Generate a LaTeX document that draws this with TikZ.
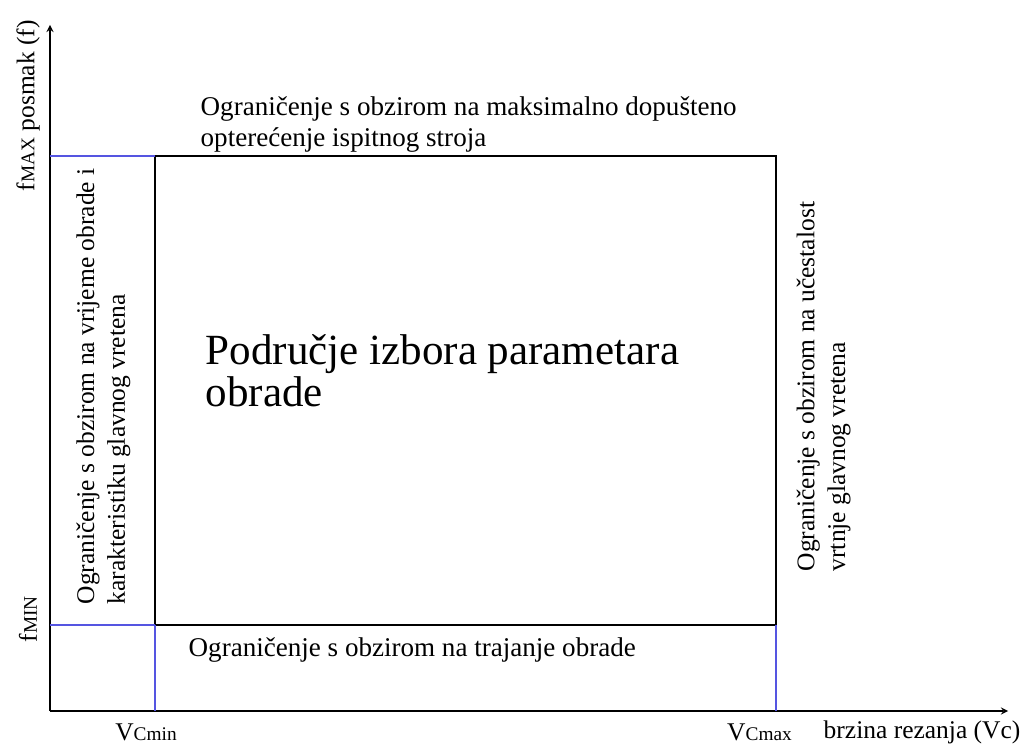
\documentclass[tikz,border=0pt]{standalone}
\usepackage{fontspec}
\setmainfont{Liberation Serif}
\definecolor{limblue}{RGB}{85,85,225}
\newcommand{\smalltxt}{\fontsize{14.5}{17.5}\selectfont}
\newcommand{\widetxt}{\fontsize{15.4}{17.5}\selectfont}
\newcommand{\bigtxt}{\fontsize{24.5}{24}\selectfont}
\newcommand{\subtxt}{\fontsize{11}{11}\selectfont}
\begin{document}
\begin{tikzpicture}[>=stealth,line width=0.8pt]
  \useasboundingbox (0,0) rectangle (20.42,14.9);
  \tikzset{lbl/.style={inner sep=0pt,font=\smalltxt,align=left}}
  % axes
  \coordinate (orig) at (1.0,0.68);
  \coordinate (ytip) at (1.0,14.4);
  \coordinate (xtip) at (20.16,0.68);
  \draw[->] (orig) -- (ytip);
  \draw[->] (orig) -- (xtip);
  % limits
  \coordinate (fmaxl) at (1.0,11.78);
  \coordinate (fminl) at (1.0,2.4);
  \coordinate (tl) at (3.1,11.78);
  \coordinate (tr) at (15.52,11.78);
  \coordinate (bl) at (3.1,2.4);
  \coordinate (br) at (15.52,2.4);
  \coordinate (vminb) at (3.1,0.68);
  \coordinate (vmaxb) at (15.52,0.68);
  \draw (bl) rectangle (tr);
  \draw[limblue] (fmaxl) -- (tl);
  \draw[limblue] (fminl) -- (bl);
  \draw[limblue] (bl) -- (vminb);
  \draw[limblue] (br) -- (vmaxb);
  % axis labels
  \node[lbl,rotate=90,anchor=west] (ylab) at (0.56,11.06) {f{\subtxt MAX}\ posmak (f)};
  \node[lbl,rotate=90,anchor=west] (fmin) at (0.56,2.04) {f{\subtxt MIN}};
  \node[lbl] (vmin) at (2.92,0.26) {V{\subtxt Cmin}};
  \node[lbl] (vmax) at (15.19,0.26) {V{\subtxt Cmax}};
  \node[lbl,anchor=west] (xlab) at (16.46,0.26) {brzina rezanja (Vc)};
  % limit texts
  \node[lbl,font=\widetxt,anchor=west] (top) at (4.0,12.41)
    {Ograničenje s obzirom na maksimalno dopušteno\\opterećenje ispitnog stroja};
  \node[lbl,font=\widetxt,anchor=west] (bottom) at (3.76,1.9)
    {Ograničenje s obzirom na trajanje obrade};
  \node[lbl,rotate=90,anchor=west] (left) at (2.07,2.8)
    {Ograničenje s obzirom na vrijeme obrade i\\karakteristiku glavnog vretena};
  \node[lbl,rotate=90,anchor=west] (right) at (16.47,3.46)
    {Ograničenje s obzirom na učestalost\\vrtnje glavnog vretena};
  \node[lbl,font=\bigtxt,anchor=west] (area) at (4.1,7.48)
    {Područje izbora parametara\\obrade};
\end{tikzpicture}
\end{document}
